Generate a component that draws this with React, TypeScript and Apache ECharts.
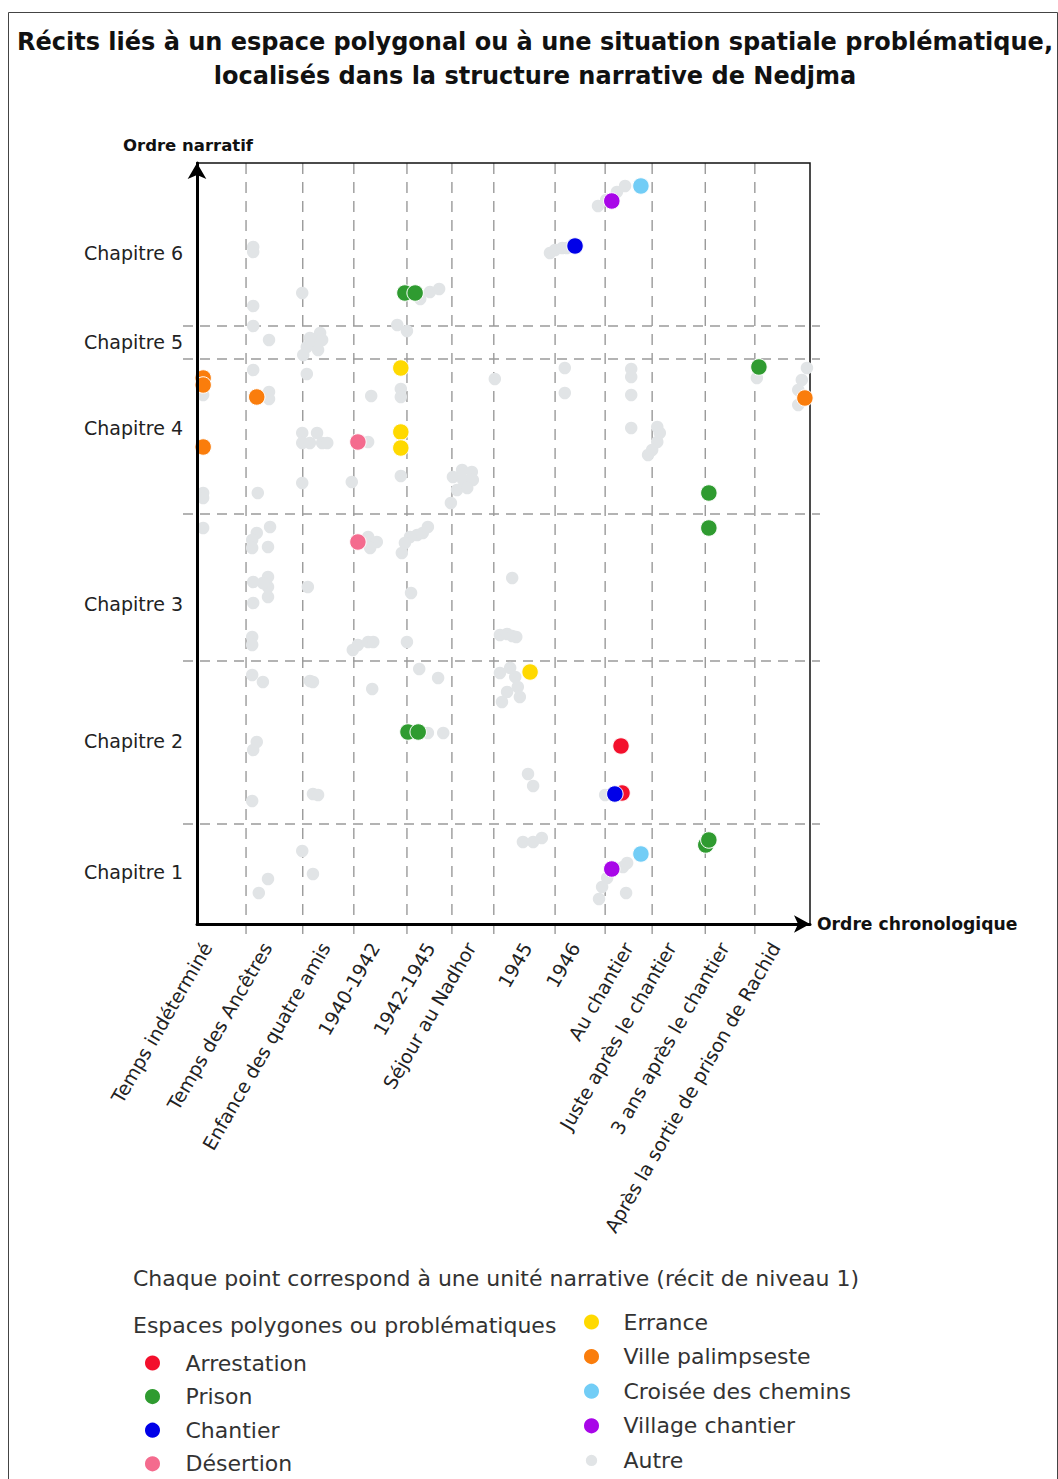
import React, { useEffect, useRef } from "react";
import * as echarts from "echarts";

// ---------- data ----------
const categories = [
  "Temps indéterminé",
  "Temps des Ancêtres",
  "Enfance des quatre amis",
  "1940-1942",
  "1942-1945",
  "Séjour au Nadhor",
  "1945",
  "1946",
  "Au chantier",
  "Juste après le chantier",
  "3 ans après le chantier",
  "Après la sortie de prison de Rachid",
];
// chronological order scale 0..120
const categoryLabelPos = [1.96, 13.7, 25.1, 34.8, 45.6, 53.6, 64.6, 74.0, 84.4, 92.8, 103.2, 113.2];
const periodBounds = [9.6, 20.7, 30.7, 41.1, 49.9, 58.1, 70.1, 79.9, 89.1, 99.5, 109.2];

// narrative order scale 0..380.5
const chapters = ["Chapitre 1", "Chapitre 2", "Chapitre 3", "Chapitre 4", "Chapitre 5", "Chapitre 6"];
const chapterLabelPos = [26, 91.5, 160, 248, 291, 335.5];
const chapterBounds = [50, 131.5, 205, 282.5, 299];

const arrestation = [[83.0, 89], [83.2, 65.5]];
const prison = [
  [40.7, 315.5], [42.7, 315.5], [110.0, 278.5], [100.2, 215.5], [100.2, 198],
  [41.3, 96], [43.3, 96], [99.6, 39.5], [100.2, 42],
];
const chantier = [[74.0, 339], [81.8, 65]];
const desertion = [[31.5, 241], [31.5, 191]];
const errance = [[39.9, 278], [39.9, 246], [39.9, 238], [65.2, 126]];
const villePalimpseste = [[1.2, 273], [1.2, 269.5], [11.7, 263.5], [1.2, 238.5], [119.0, 263]];
const croiseeChemins = [[86.9, 369], [86.9, 35]];
const villageChantier = [[81.2, 361.5], [81.2, 27.5]];
const autre = [
  // chapitre 6
  [11.0, 338.5], [11.0, 336], [20.6, 315.5], [43.7, 312.5], [45.6, 316], [47.4, 317.5],
  [11.0, 309], [11.0, 299], [39.2, 299.5], [41.1, 296.5], [14.1, 292],
  [24.1, 295.5], [23.1, 291], [21.5, 288.5], [20.8, 284.5], [24.5, 292], [22.1, 293], [23.7, 287],
  [78.5, 359], [80.1, 362], [82.2, 366], [83.8, 369],
  [69.1, 335.5], [70.1, 337], [71.5, 338], [72.4, 338],
  // chapitre 4
  [1.2, 264.5], [11.0, 277], [21.5, 275], [14.1, 266], [14.1, 262.5], [34.1, 264],
  [39.9, 267.5], [39.9, 263.5], [58.3, 272.5], [72.0, 278], [72.0, 265.5],
  [85.0, 277.5], [85.0, 273.5], [85.0, 264.5], [85.0, 248], [109.6, 273],
  [119.4, 278], [118.4, 272], [117.7, 267], [117.7, 259.5],
  [20.6, 245.5], [20.6, 240.5], [23.5, 245.5], [24.5, 240.5], [25.5, 240.5], [22.1, 240.5],
  [33.5, 241], [90.1, 248.5], [90.6, 245.5], [90.1, 241], [89.1, 237], [88.3, 234.5],
  [39.9, 224], [20.6, 220.5], [30.3, 221], [11.9, 215.5], [1.2, 215.5], [1.2, 213],
  [50.1, 223.5], [52.1, 222], [53.8, 226], [54.0, 222], [50.9, 217], [52.9, 218], [51.9, 227], [49.7, 210.5],
  // chapitre 3
  [1.2, 198], [11.7, 195.5], [10.8, 192], [10.8, 188], [14.3, 198.5], [13.9, 188.5],
  [33.5, 193.5], [35.2, 191], [33.9, 188],
  [45.2, 198.5], [44.2, 195.5], [43.1, 194.5], [41.7, 193.5], [40.7, 190.5], [40.1, 185.5],
  [11.0, 171], [13.9, 173.5], [13.9, 168.5], [13.9, 163.5], [11.0, 160.5], [12.9, 170.5],
  [21.7, 168.5], [41.9, 165.5], [61.7, 173], [10.8, 143.5], [10.8, 139.5],
  [30.5, 137], [31.5, 139.5], [33.5, 141], [34.5, 141], [41.1, 141],
  [59.3, 144.5], [60.7, 145], [61.7, 144], [62.5, 143.5],
  // chapitre 2
  [10.8, 124.5], [12.9, 121], [22.1, 121.5], [22.7, 121], [43.5, 127.5], [47.2, 123], [34.3, 117.5],
  [59.3, 125.5], [62.3, 123.5], [62.8, 118.5], [63.2, 113.5], [60.7, 116], [59.7, 111], [61.3, 128],
  [11.7, 91], [11.0, 87], [45.2, 95.5], [48.2, 95.5], [10.8, 61.5], [22.7, 65], [23.7, 64.5],
  [64.8, 75], [65.8, 69], [79.9, 64.5],
  // chapitre 1
  [63.8, 41], [65.8, 41], [67.5, 43], [20.6, 36.5], [22.7, 25], [13.9, 22.5], [12.1, 15.5],
  [84.2, 30.5], [83.4, 28.5], [80.3, 23], [79.3, 18.5], [78.7, 12.5], [84.0, 15.5],
];

const X_MAX = 120;
const Y_MAX = 380.5;
const FONT = "DejaVu Sans";

const seriesDefs = [
  { name: "Autre", data: autre, color: "#e1e4e6" },
  { name: "Arrestation", data: arrestation, color: "#f3102c" },
  { name: "Prison", data: prison, color: "#2f9b30" },
  { name: "Chantier", data: chantier, color: "#0000e8" },
  { name: "Désertion", data: desertion, color: "#f46b8e" },
  { name: "Errance", data: errance, color: "#ffd900" },
  { name: "Ville palimpseste", data: villePalimpseste, color: "#fa7d0c" },
  { name: "Croisée des chemins", data: croiseeChemins, color: "#72cdf6" },
  { name: "Village chantier", data: villageChantier, color: "#a806e8" },
];

// smaller legend dot for "Autre": circle inside a larger (invisible) box
const SMALL_DOT = "path://M0,0 M24,24 M12,4 A8,8 0 1,1 12,20 A8,8 0 1,1 12,4 Z";

export default function App() {
  const ref = useRef<HTMLDivElement>(null);

  useEffect(() => {
    if (!ref.current) return;
    const chart = echarts.init(ref.current, null, { renderer: "svg" });

    const scatterSeries = seriesDefs.map((s) => ({
      name: s.name,
      type: "scatter",
      data: s.data,
      symbol: "circle",
      symbolSize: s.name === "Autre" ? 12.5 : 16.5,
      z: s.name === "Autre" ? 2 : 3,
      itemStyle:
        s.name === "Autre"
          ? { color: s.color, opacity: 1 }
          : { color: s.color, borderColor: "#ffffff", borderWidth: 1, opacity: 1 },
      emphasis: { disabled: true },
    }));

    const legendText = { fontSize: 22, color: "#333", fontFamily: FONT };

    chart.setOption({
      animation: false,
      textStyle: { fontFamily: FONT },
      title: {
        text:
          "Récits liés à un espace polygonal ou à une situation spatiale problématique,\nlocalisés dans la structure narrative de Nedjma",
        left: 530,
        top: 20,
        textAlign: "center",
        textStyle: { fontSize: 24, fontWeight: "bold", color: "#111", lineHeight: 34, fontFamily: FONT },
      },
      grid: {
        left: 197,
        right: 248,
        top: 163,
        bottom: 555,
        show: true,
        borderColor: "#111",
        borderWidth: 1.5,
        backgroundColor: "transparent",
      },
      xAxis: {
        type: "value",
        min: 0,
        max: X_MAX,
        z: 5,
        axisLine: {
          show: true,
          lineStyle: { color: "#000", width: 3 },
          symbol: ["none", "arrow"],
          symbolSize: [13, 16],
          symbolOffset: [0, 0],
        },
        axisTick: { show: false },
        splitLine: { show: false },
        axisLabel: {
          customValues: categoryLabelPos,
          formatter: (v: number) => {
            const i = categoryLabelPos.findIndex((p) => Math.abs(p - v) < 0.001);
            return i >= 0 ? categories[i] : "";
          },
          rotate: 60,
          margin: 20,
          fontSize: 19,
          color: "#222",
          fontFamily: FONT,
        },
        name: "Ordre chronologique",
        nameLocation: "end",
        nameGap: 7,
        nameTextStyle: { fontWeight: "bold", fontSize: 17.2, color: "#111", fontFamily: FONT },
      },
      yAxis: {
        type: "value",
        min: 0,
        max: Y_MAX,
        z: 5,
        axisLine: {
          show: true,
          lineStyle: { color: "#000", width: 3 },
          symbol: ["none", "arrow"],
          symbolSize: [14, 16],
          symbolOffset: [0, 0],
        },
        axisTick: { show: false },
        splitLine: { show: false },
        axisLabel: {
          customValues: chapterLabelPos,
          formatter: (v: number) => {
            const i = chapterLabelPos.findIndex((p) => Math.abs(p - v) < 0.001);
            return i >= 0 ? chapters[i] : "";
          },
          margin: 14,
          fontSize: 19,
          color: "#222",
          fontFamily: FONT,
        },
        name: "Ordre narratif",
        nameLocation: "end",
        nameGap: 9,
        nameTextStyle: {
          fontWeight: "bold",
          fontSize: 16.5,
          color: "#111",
          fontFamily: FONT,
          padding: [0, 18, 0, 0],
        },
      },
      legend: [
        {
          data: ["Arrestation", "Prison", "Chantier", "Désertion"],
          orient: "vertical",
          left: 143,
          top: 1352,
          height: 300,
          padding: 0,
          itemWidth: 56,
          itemHeight: 17,
          itemGap: 11.6,
          icon: "circle",
          selectedMode: false,
          textStyle: legendText,
        },
        {
          data: [
            "Errance",
            "Ville palimpseste",
            "Croisée des chemins",
            "Village chantier",
            { name: "Autre", icon: SMALL_DOT },
          ],
          orient: "vertical",
          left: 582,
          top: 1311,
          height: 300,
          padding: 0,
          itemWidth: 54,
          itemHeight: 17,
          itemGap: 12.6,
          icon: "circle",
          selectedMode: false,
          textStyle: legendText,
        },
      ],
      graphic: [
        {
          type: "rect",
          shape: { x: 8.5, y: 12.5, width: 1049, height: 1480 },
          style: { fill: "none", stroke: "#444", lineWidth: 1 },
          silent: true,
        },
        {
          type: "text",
          x: 133,
          y: 1278,
          style: {
            text: "Chaque point correspond à une unité narrative (récit de niveau 1)",
            fontSize: 22,
            fill: "#333",
            fontFamily: FONT,
            verticalAlign: "middle",
          },
        },
        {
          type: "text",
          x: 133,
          y: 1325,
          style: {
            text: "Espaces polygones ou problématiques",
            fontSize: 22,
            fill: "#333",
            fontFamily: FONT,
            verticalAlign: "middle",
          },
        },
      ],
      series: [
        {
          type: "custom",
          name: "periodes",
          silent: true,
          z: -1,
          clip: false,
          data: periodBounds.map((v) => [v, 0]),
          renderItem: (_p: any, api: any) => {
            const x = api.value(0);
            const top = api.coord([x, Y_MAX]);
            const bottom = api.coord([x, 0]);
            return {
              type: "line",
              shape: { x1: top[0], y1: top[1], x2: bottom[0], y2: bottom[1] + 11 },
              style: { stroke: "#9a9a9a", lineWidth: 1.4, lineDash: [11, 8] },
            };
          },
        },
        {
          type: "custom",
          name: "chapitres",
          silent: true,
          z: -1,
          clip: false,
          data: chapterBounds.map((v) => [0, v]),
          renderItem: (_p: any, api: any) => {
            const y = api.value(1);
            const l = api.coord([0, y]);
            const r = api.coord([X_MAX, y]);
            return {
              type: "line",
              shape: { x1: l[0] - 14, y1: l[1], x2: r[0] + 10, y2: r[1] },
              style: { stroke: "#9a9a9a", lineWidth: 1.4, lineDash: [10, 7] },
            };
          },
        },
        ...scatterSeries,
      ],
    });

    return () => chart.dispose();
  }, []);

  return (
    <div
      ref={ref}
      style={{ position: "absolute", left: 0, top: 0, width: 1058, height: 1479, background: "#fff" }}
    />
  );
}
